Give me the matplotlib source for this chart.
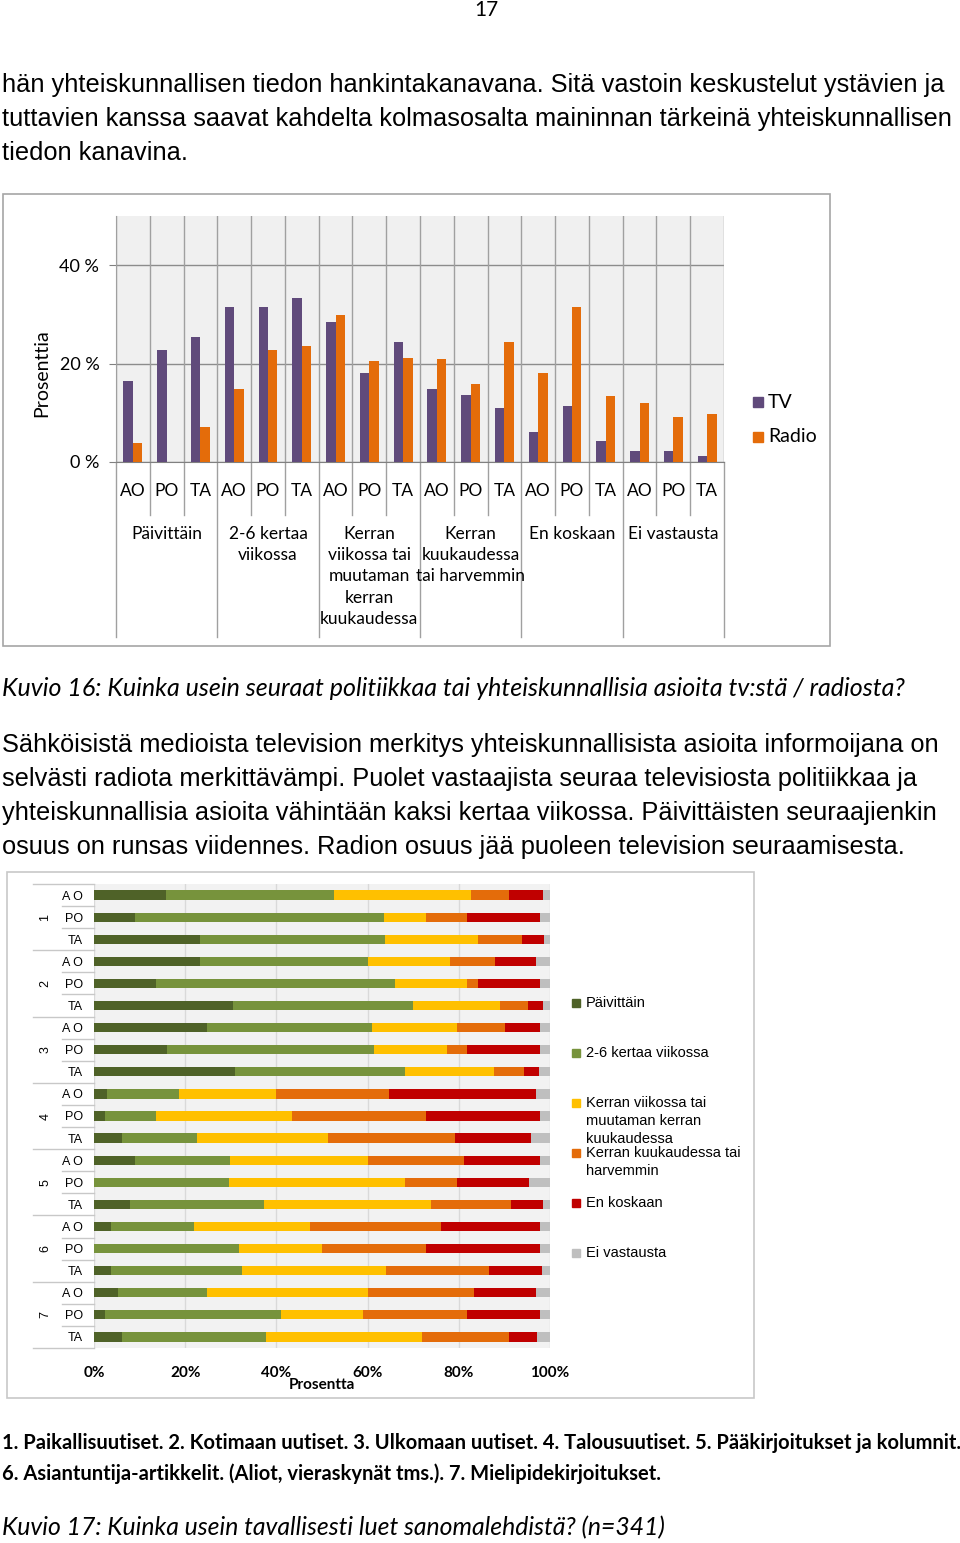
import matplotlib.pyplot as plt
from matplotlib.patches import Rectangle
import numpy as np

# --- data: chart 1 (Kuvio 16) ---
freq_groups = ['Päivittäin', '2-6 kertaa\nviikossa',
               'Kerran\nviikossa tai\nmuutaman\nkerran\nkuukaudessa',
               'Kerran\nkuukaudessa\ntai harvemmin', 'En koskaan', 'Ei vastausta']
sub_labels = ['AO', 'PO', 'TA']
tv = [16.5, 22.7, 25.4, 31.6, 31.6, 33.4, 28.4, 18.1, 24.3,
      14.9, 13.6, 11.0, 6.0, 11.4, 4.2, 2.3, 2.3, 1.3]
radio = [3.8, 0.0, 7.2, 14.9, 22.7, 23.5, 29.9, 20.5, 21.1,
         20.9, 15.9, 24.4, 18.0, 31.6, 13.4, 11.9, 9.1, 9.7]

# --- data: chart 2 (Kuvio 17), rows 1 AO, 1 PO, 1 TA, 2 AO ... 7 TA ---
row_labels = ['A O', 'PO', 'TA'] * 7
group_numbers = ['1', '2', '3', '4', '5', '6', '7']
paivittain = [15.7, 9.1, 23.3, 23.3, 13.6, 30.5, 24.8, 16.1, 31.0, 2.9, 2.5,
              6.2, 9.1, 0.0, 7.9, 3.8, 0.0, 3.8, 5.3, 2.4, 6.2]
kertaa_2_6 = [37.0, 54.5, 40.6, 36.8, 52.4, 39.5, 36.2, 45.3, 37.1, 15.8, 11.1,
              16.3, 20.8, 29.6, 29.3, 18.2, 31.8, 28.7, 19.5, 38.5, 31.6]
viikoittain = [30.0, 9.2, 20.4, 18.0, 15.8, 19.0, 18.7, 16.0, 19.6, 21.2, 29.8,
               28.8, 30.2, 38.5, 36.7, 25.4, 18.2, 31.6, 35.3, 18.2, 34.2]
kuukausittain = [8.2, 9.0, 9.6, 9.9, 2.4, 6.1, 10.4, 4.5, 6.6, 24.7, 29.4,
                 27.8, 21.1, 11.6, 17.5, 28.7, 22.8, 22.6, 23.2, 22.7, 18.9]
ei_koskaan = [7.5, 16.1, 4.7, 9.0, 13.5, 3.4, 7.7, 16.0, 3.3, 32.3, 25.1,
              16.7, 16.6, 15.7, 7.1, 21.8, 25.1, 11.6, 13.7, 16.1, 6.2]
ei_vastausta = [1.6, 2.2, 1.4, 3.0, 2.2, 1.4, 2.2, 2.2, 2.4, 3.0, 2.2,
                4.2, 2.2, 4.6, 1.4, 2.1, 2.1, 1.8, 3.0, 2.1, 3.0]
legend2_labels = ['Päivittäin', '2-6 kertaa viikossa',
                  'Kerran viikossa tai\nmuutaman kerran\nkuukaudessa',
                  'Kerran kuukaudessa tai\nharvemmin', 'En koskaan', 'Ei vastausta']
pct_ticks = [0, 20, 40, 60, 80, 100]

BODY = ['Liberation Sans', 'DejaVu Sans']
CAL = ['Lato', 'DejaVu Sans']

W, H = 960, 1543
fig = plt.figure(figsize=(W / 100, H / 100), dpi=100)


def box(x0, y0, x1, y1):
    # pixel box (top-left origin) -> figure fraction
    return [x0 / W, 1 - y1 / H, (x1 - x0) / W, (y1 - y0) / H]


def ftext(x, y, s, **kw):
    fig.text(x / W, 1 - y / H, s, **kw)


def frame(x0, y0, x1, y1, color):
    fig.add_artist(Rectangle((x0 / W, 1 - y1 / H), (x1 - x0) / W, (y1 - y0) / H,
                             transform=fig.transFigure, fill=False, ec=color, lw=1.2))


# page text
ftext(486, 16, '17', ha='center', va='baseline', fontsize=15, family=CAL)
para1 = ['hän yhteiskunnallisen tiedon hankintakanavana. Sitä vastoin keskustelut ystävien ja',
         'tuttavien kanssa saavat kahdelta kolmasosalta maininnan tärkeinä yhteiskunnallisen',
         'tiedon kanavina.']
for i, line in enumerate(para1):
    ftext(2, 92 + 34 * i, line, va='baseline', fontsize=18.3, family=BODY)

ftext(2, 696, 'Kuvio 16: Kuinka usein seuraat politiikkaa tai yhteiskunnallisia asioita tv:stä / radiosta?',
      va='baseline', fontsize=18, style='italic', family=CAL)

para2 = ['Sähköisistä medioista television merkitys yhteiskunnallisista asioita informoijana on',
         'selvästi radiota merkittävämpi. Puolet vastaajista seuraa televisiosta politiikkaa ja',
         'yhteiskunnallisia asioita vähintään kaksi kertaa viikossa. Päivittäisten seuraajienkin',
         'osuus on runsas viidennes. Radion osuus jää puoleen television seuraamisesta.']
for i, line in enumerate(para2):
    ftext(2, 752 + 34 * i, line, va='baseline', fontsize=18.3, family=BODY)

ftext(2, 1449, '1. Paikallisuutiset. 2. Kotimaan uutiset. 3. Ulkomaan uutiset. 4. Talousuutiset. '
      '5. Pääkirjoitukset ja kolumnit.', va='baseline', fontsize=14.5, weight='bold', family=CAL)
ftext(2, 1480, '6. Asiantuntija-artikkelit. (Aliot, vieraskynät tms.). 7. Mielipidekirjoitukset.',
      va='baseline', fontsize=14.5, weight='bold', family=CAL)
ftext(2, 1535, 'Kuvio 17: Kuinka usein tavallisesti luet sanomalehdistä? (n=341)',
      va='baseline', fontsize=17.8, style='italic', family=CAL)

# ---------------- chart 1 ----------------
frame(3, 194, 830, 646, '#a6a6a6')
ax1 = fig.add_axes(box(116, 216, 724, 462))
ax1.set_facecolor('#f0f0f0')
ax1.set_xlim(0, 18)
ax1.set_ylim(0, 50)
x = np.arange(18) + 0.5
ax1.bar(x - 0.14, tv, width=0.28, color='#604a7b', zorder=3)
ax1.bar(x + 0.14, radio, width=0.28, color='#e46c0a', zorder=3)
ax1.set_yticks([0, 20, 40])
ax1.set_yticklabels(['0 %', '20 %', '40 %'], fontsize=13, family=CAL)
ax1.tick_params(axis='y', length=5, color='#808080', pad=7)
ax1.set_xticks([])
ax1.yaxis.grid(True, color='#8c8c8c', lw=1)
ax1.set_axisbelow(True)
for s in ['top', 'right']:
    ax1.spines[s].set_visible(False)
ax1.spines['left'].set_color('#a0a0a0')
ax1.spines['bottom'].set_color('#808080')
for i in range(19):
    ax1.axvline(i, color='#a0a0a0', lw=1, zorder=1)
    y_end = -35.6 if i % 3 == 0 else -10.8
    ax1.plot([i, i], [0, y_end], color='#a0a0a0', lw=1, clip_on=False)
for i in range(18):
    ax1.text(i + 0.5, -5.9, sub_labels[i % 3], ha='center', va='center',
             fontsize=12.5, family=CAL)
for g, name in enumerate(freq_groups):
    ax1.text(3 * g + 1.5, -13.0, name, ha='center', va='top', fontsize=12.5,
             family=CAL, linespacing=1.4)
ax1.text(-0.122, 0.36, 'Prosenttia', rotation=90, ha='center', va='center',
         fontsize=14, family=CAL, transform=ax1.transAxes)
for lab, col, yy in [('TV', '#604a7b', 402), ('Radio', '#e46c0a', 437)]:
    fig.add_artist(Rectangle((753 / W, 1 - (yy + 5) / H), 10 / W, 10 / H,
                             transform=fig.transFigure, color=col))
    ftext(768, yy, lab, va='center', fontsize=14, family=CAL)

# ---------------- chart 2 ----------------
frame(7, 872, 754, 1398, '#c8c8c8')
ax2 = fig.add_axes(box(94, 884, 550, 1348))
ax2.set_facecolor('#f2f2f2')
series = [paivittain, kertaa_2_6, viikoittain, kuukausittain, ei_koskaan, ei_vastausta]
colors = ['#4f6228', '#77933c', '#ffc000', '#e46c0a', '#c00000', '#bfbfbf']
rows = np.arange(len(row_labels))
left = np.zeros(len(rows))
for vals, col in zip(series, colors):
    ax2.barh(rows, vals, left=left, height=0.42, color=col, zorder=3)
    left += np.array(vals)
ax2.set_xlim(0, 100)
ax2.set_ylim(len(rows) - 0.5, -0.5)
ax2.set_xticks(pct_ticks)
ax2.set_xticklabels([f'{t}%' for t in pct_ticks], fontsize=11, weight='bold', family=CAL)
ax2.set_yticks(rows)
ax2.set_yticklabels(row_labels, fontsize=9, family=BODY)
ax2.tick_params(axis='x', length=0, pad=13)
ax2.tick_params(axis='y', length=0, pad=8)
ax2.xaxis.grid(True, color='#d9d9d9', lw=1)
ax2.set_axisbelow(True)
for s in ax2.spines.values():
    s.set_visible(False)
ax2.set_xlabel('Prosentta', fontsize=11, weight='bold', family=CAL)
ax2.xaxis.set_label_coords(0.5, -0.065)
ytr = ax2.get_yaxis_transform()
for g, num in enumerate(group_numbers):
    ax2.text(-0.107, 3 * g + 1, num, rotation=90, ha='center', va='center',
             fontsize=9, family=BODY, transform=ytr)
for b in range(len(rows) + 1):
    x0 = -0.134 if b % 3 == 0 else -0.070
    ax2.plot([x0, 0], [b - 0.5, b - 0.5], color='#c8c8c8', lw=1,
             transform=ytr, clip_on=False)
for i, (lab, col) in enumerate(zip(legend2_labels, colors)):
    yy = 1003 + 50 * i
    fig.add_artist(Rectangle((572 / W, 1 - (yy + 4) / H), 8 / W, 8 / H,
                             transform=fig.transFigure, color=col))
    ftext(586, yy - 7, lab, va='top', fontsize=10.5, family=BODY, linespacing=1.35)

fig.savefig('out.png', dpi=100)
